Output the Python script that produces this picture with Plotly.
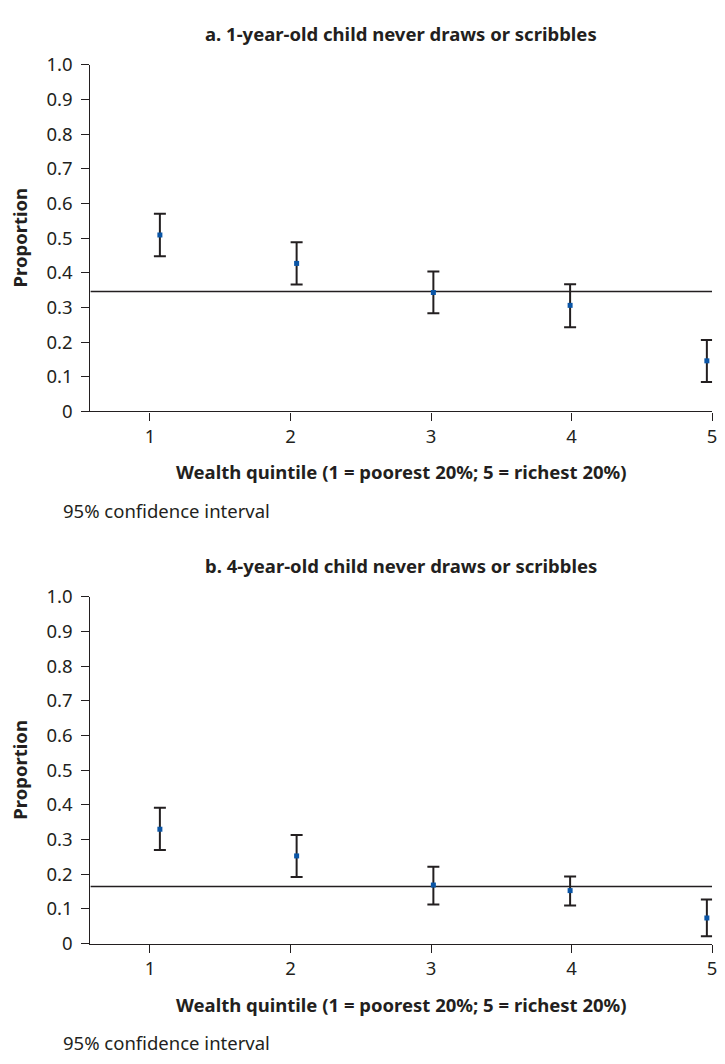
import plotly.graph_objects as go

# ---- data ----
quintiles = [1, 2, 3, 4, 5]
tick_labels_x = ["1", "2", "3", "4", "5"]
y_ticks = [0, 0.1, 0.2, 0.3, 0.4, 0.5, 0.6, 0.7, 0.8, 0.9, 1.0]
y_tick_labels = ["0", "0.1", "0.2", "0.3", "0.4", "0.5", "0.6", "0.7", "0.8", "0.9", "1.0"]

a_value = [0.509, 0.427, 0.343, 0.306, 0.146]
a_upper = [0.570, 0.488, 0.404, 0.367, 0.206]
a_lower = [0.448, 0.366, 0.283, 0.243, 0.085]
a_mean = 0.346

b_value = [0.330, 0.253, 0.169, 0.153, 0.074]
b_upper = [0.392, 0.313, 0.222, 0.194, 0.127]
b_lower = [0.270, 0.192, 0.113, 0.110, 0.021]
b_mean = 0.165

title_a = "a. 1-year-old child never draws or scribbles"
title_b = "b. 4-year-old child never draws or scribbles"
x_title = "Wealth quintile (1 = poorest 20%; 5 = richest 20%)"
y_title = "Proportion"
note = "95% confidence interval"

# axis ranges
x_range = [0.576, 5.0]          # tick axis
x_point_range = [0.4917, 5.038]  # positions of the plotted estimates
y_range = [0, 1.0]

# ---- style ----
W, H = 725, 1064
FONT = "Noto Sans"
FS = 18.5
TXT = "#231f20"
BLUE = "#0a55a6"

x0_px, x1_px = 91, 717
top_a, bot_a = 52, 407
top_b, bot_b = 597, 952


def px_x(p):
    return p / W


def px_y(p):
    return 1 - p / H


fig = go.Figure()

panels = [
    (a_value, a_upper, a_lower, a_mean, "x", "x3", "y", top_a, bot_a, title_a),
    (b_value, b_upper, b_lower, b_mean, "x2", "x4", "y2", top_b, bot_b, title_b),
]

for vals, up, lo, mean, xa, xo, ya, top, bot, ttl in panels:
    # overall proportion line (on the main axis)
    fig.add_trace(go.Scatter(
        x=x_range, y=[mean, mean], xaxis=xa, yaxis=ya, mode="lines",
        line=dict(color=TXT, width=1.4), showlegend=False, hoverinfo="skip",
        cliponaxis=False,
    ))
    # estimates with 95% CI
    fig.add_trace(go.Scatter(
        x=quintiles, y=vals, xaxis=xo, yaxis=ya, mode="markers",
        marker=dict(symbol="square", size=5, color=BLUE, line=dict(width=0)),
        error_y=dict(type="data", symmetric=False,
                     array=[u - v for u, v in zip(up, vals)],
                     arrayminus=[v - l for v, l in zip(vals, lo)],
                     color=TXT, thickness=2, width=6),
        showlegend=False, hoverinfo="skip", cliponaxis=False,
    ))
    fig.add_annotation(text="<b>%s</b>" % ttl, xref="paper", yref="paper",
                       x=px_x((x0_px + x1_px) / 2), y=px_y(top - 32), xanchor="center", yanchor="middle",
                       showarrow=False, font=dict(family=FONT, size=FS, color=TXT))
    fig.add_annotation(text="<b>%s</b>" % x_title, xref="paper", yref="paper",
                       x=px_x((x0_px + x1_px) / 2), y=px_y(bot + 62), xanchor="center", yanchor="middle",
                       showarrow=False, font=dict(family=FONT, size=FS, color=TXT))
    fig.add_annotation(text="<b>%s</b>" % y_title, xref="paper", yref="paper",
                       x=px_x(20), y=px_y(bot - 178), xanchor="center", yanchor="middle",
                       textangle=-90, showarrow=False, font=dict(family=FONT, size=FS, color=TXT))
    fig.add_annotation(text=note, xref="paper", yref="paper",
                       x=px_x(61), y=px_y(bot + 101), xanchor="left", yanchor="middle",
                       showarrow=False, font=dict(family=FONT, size=FS, color=TXT))

xdom = [px_x(x0_px), px_x(x1_px)]
axis_common = dict(showgrid=False, zeroline=False, showline=True, linecolor=TXT, linewidth=1.2,
                   ticks="outside", ticklen=8, tickwidth=1.2, tickcolor=TXT,
                   tickfont=dict(family=FONT, size=FS, color=TXT))

xmain = dict(axis_common, range=x_range, tickvals=quintiles, ticktext=tick_labels_x,
             domain=xdom, ticklabelstandoff=0)
xover = dict(range=x_point_range, visible=False, domain=xdom)
ymain = dict(axis_common, range=y_range, tickvals=y_ticks, ticktext=y_tick_labels,
             ticklabelstandoff=5)

fig.update_layout(
    width=W, height=H, margin=dict(l=0, r=0, t=0, b=0),
    paper_bgcolor="white", plot_bgcolor="white",
    xaxis=dict(xmain, anchor="y"),
    yaxis=dict(ymain, anchor="x", domain=[px_y(bot_a), px_y(top_a)]),
    xaxis2=dict(xmain, anchor="y2"),
    yaxis2=dict(ymain, anchor="x2", domain=[px_y(bot_b), px_y(top_b)]),
    xaxis3=dict(xover, anchor="y", overlaying="x"),
    xaxis4=dict(xover, anchor="y2", overlaying="x2"),
)

fig.write_html("out.html")
